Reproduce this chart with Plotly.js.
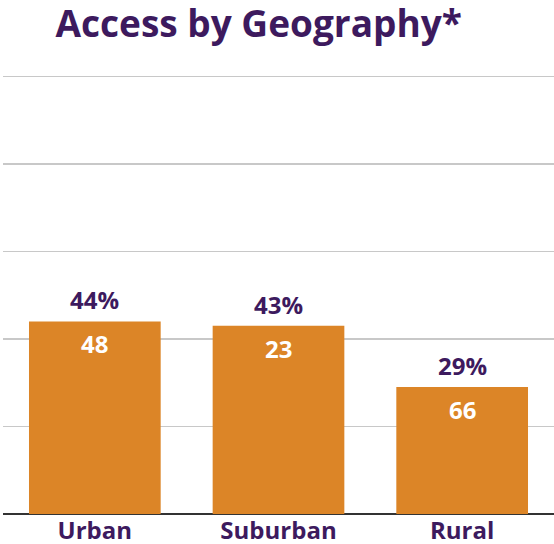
<!DOCTYPE html>
<html><head><meta charset="utf-8">
<script src="https://cdn.plot.ly/plotly-3.0.1.min.js"></script>
<style>html,body{margin:0;padding:0;background:#fff}#c{width:554px;height:544px}</style>
</head><body><div id="c"></div>
<script>
const categories = ["Urban", "Suburban", "Rural"];
const percentValues = [44, 43, 29];
const countLabels = ["48", "23", "66"];
const yTicks = [0, 20, 40, 60, 80, 100];

const purple = "#3D1A5E";
const orange = "#DC8527";
const font = "'Open Sans', Lato, sans-serif";

const annotations = [];
categories.forEach((c, i) => {
  annotations.push({x: c, y: percentValues[i], xref: "x", yref: "y", text: "<b>" + percentValues[i] + "%</b>",
    showarrow: false, yanchor: "bottom", yshift: 3, font: {family: font, size: 24, color: purple}});
  annotations.push({x: c, y: percentValues[i], xref: "x", yref: "y", text: "<b>" + countLabels[i] + "</b>",
    showarrow: false, yanchor: "top", yshift: -4, font: {family: font, size: 24, color: "#ffffff"}});
});

Plotly.newPlot("c", [{
  type: "bar", x: categories, y: percentValues, marker: {color: orange},
  hoverinfo: "none"
}], {
  width: 554, height: 544,
  margin: {l: 3, r: 0, t: 72, b: 30},
  title: {text: "<b>Access by Geography*</b>", x: 0.467, xanchor: "center", y: 0.955, yanchor: "middle",
    font: {family: font, size: 37, color: purple}},
  bargap: 0.283,
  xaxis: {range: [-0.5, 2.5], showgrid: false, showline: false, zeroline: false, ticks: "",
    tickfont: {family: font, size: 24, color: purple}, ticklabelstandoff: 0, fixedrange: true},
  yaxis: {range: [0, 101], tickvals: yTicks, showticklabels: false, showgrid: true, gridcolor: "#c8c8c8",
    gridwidth: 1.5, zeroline: true, zerolinecolor: "#333333", zerolinewidth: 2.5, fixedrange: true},
  annotations: annotations,
  showlegend: false,
  plot_bgcolor: "#fff", paper_bgcolor: "#fff"
}, {displayModeBar: false, staticPlot: true}).then(() => {
  document.querySelectorAll(".xtick text").forEach(t => t.style.fontWeight = "bold");
});
</script></body></html>
